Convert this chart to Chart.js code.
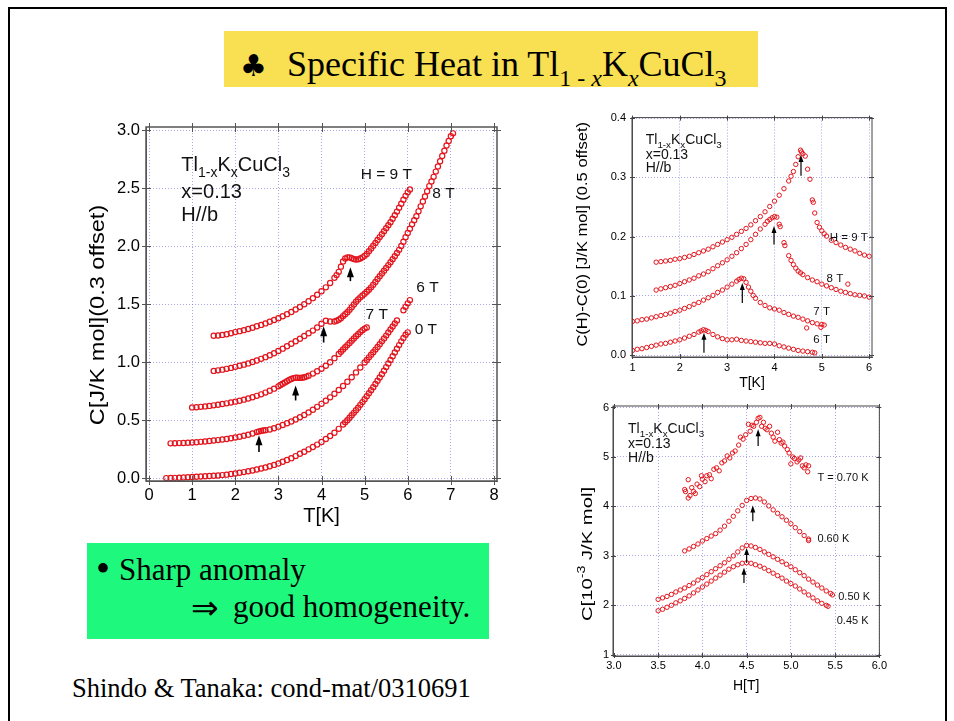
<!DOCTYPE html>
<html>
<head>
<meta charset="utf-8">
<script src="https://cdn.jsdelivr.net/npm/chart.js@4.4.1/dist/chart.umd.min.js"></script>
<style>
html,body{margin:0;padding:0;background:#fff;}
body{width:954px;height:721px;position:relative;overflow:hidden;}
.abs{position:absolute;}
.serif{font-family:'Liberation Serif','Times New Roman',serif;color:#000;white-space:nowrap;line-height:1;}
.sub{font-size:24px;position:relative;top:10px;}
#frame{left:8px;top:7px;width:935px;height:730px;border:2px solid #000;}
#titlebox{left:224px;top:31px;width:534px;height:56px;background:#f9df52;}
#greenbox{left:87px;top:543px;width:402px;height:96px;background:#1ef97e;}
canvas{position:absolute;}
</style>
</head>
<body>
<div id="frame" class="abs"></div>
<div id="titlebox" class="abs"></div>
<div class="abs serif" style="left:240px;top:51px;font-size:30px;font-family:'DejaVu Sans',sans-serif;">♣</div>
<div class="abs serif" style="left:287px;top:46px;font-size:36px;">Specific Heat in Tl<span class="sub">1 - <i>x</i></span>K<span class="sub"><i>x</i></span>CuCl<span class="sub">3</span></div>
<div id="greenbox" class="abs"></div>
<div class="abs serif" style="left:96px;top:549px;font-size:40px;">•</div>
<div class="abs serif" style="left:119px;top:554px;font-size:31px;">Sharp anomaly</div>
<div class="abs serif" style="left:191px;top:592px;font-size:33px;">⇒</div>
<div class="abs serif" style="left:233px;top:591px;font-size:31px;">good homogeneity.</div>
<div class="abs serif" style="left:72px;top:675px;font-size:26.5px;">Shindo &amp; Tanaka: cond-mat/0310691</div>

<canvas id="cMain" width="480" height="440" style="left:40px;top:110px;"></canvas>
<canvas id="cDiff" width="330" height="290" style="left:560px;top:105px;"></canvas>
<canvas id="cField" width="330" height="300" style="left:560px;top:395px;"></canvas>

<script>
// ---------------- DATA ----------------
// Main panel: C [J/K mol] vs T [K], 0.3 offset between fields
const mainSeriesNames = ['0 T', '6 T', '7 T', '8 T', 'H = 9 T'];
const main0T = [[0.4,0],[0.5,.001],[0.6,.002],[0.7,.003],[0.8,.005],[0.9,.007],[1.0,.010],[1.1,.012],[1.2,.014],[1.3,.016],[1.4,.018],[1.5,.020],[1.6,.023],[1.7,.026],[1.8,.030],[1.9,.035],[2.0,.040],[2.1,.046],[2.2,.052],[2.3,.059],[2.4,.066],[2.5,.074],[2.6,.083],[2.7,.092],[2.8,.102],[2.9,.114],[3.0,.127],[3.1,.141],[3.2,.156],[3.3,.172],[3.4,.190],[3.5,.210],[3.6,.228],[3.7,.248],[3.8,.268],[3.9,.289],[4.0,.312],[4.1,.337],[4.2,.363],[4.3,.392],[4.4,.425],[4.5,.462],[4.55,.481],[4.6,.500],[4.65,.521],[4.7,.542],[4.75,.563],[4.8,.585],[4.85,.608],[4.9,.632],[4.95,.656],[5.0,.680],[5.05,.706],[5.1,.732],[5.15,.758],[5.2,.785],[5.25,.812],[5.3,.840],[5.35,.868],[5.4,.897],[5.45,.927],[5.5,.958],[5.55,.989],[5.6,1.020],[5.65,1.052],[5.7,1.084],[5.75,1.116],[5.8,1.148],[5.85,1.180],[5.9,1.210],[5.95,1.238],[6.0,1.258]];
const main6T = [[0.5,.300],[0.6,.301],[0.7,.302],[0.8,.303],[0.9,.305],[1.0,.307],[1.1,.310],[1.2,.313],[1.3,.316],[1.4,.320],[1.5,.324],[1.6,.328],[1.7,.333],[1.8,.338],[1.9,.344],[2.0,.350],[2.1,.357],[2.2,.365],[2.3,.374],[2.4,.385],[2.5,.397],[2.55,.403],[2.6,.408],[2.65,.411],[2.7,.414],[2.8,.420],[2.9,.430],[3.0,.444],[3.1,.458],[3.2,.473],[3.3,.489],[3.4,.506],[3.5,.525],[3.6,.545],[3.7,.567],[3.8,.590],[3.9,.615],[4.0,.641],[4.1,.668],[4.2,.697],[4.3,.728],[4.4,.760],[4.5,.795],[4.6,.832],[4.7,.871],[4.8,.912],[4.9,.955],[5.0,.998],[5.05,1.020],[5.1,1.042],[5.15,1.064],[5.2,1.086],[5.25,1.109],[5.3,1.132],[5.35,1.156],[5.4,1.180],[5.45,1.205],[5.5,1.230],[5.55,1.256],[5.6,1.282],[5.65,1.308],[5.7,1.334],[5.75,1.360],[5.9,1.448],[5.95,1.478],[6.0,1.508],[6.05,1.536]];
const main7T = [[1.0,.610],[1.1,.612],[1.2,.615],[1.3,.619],[1.4,.623],[1.5,.628],[1.6,.633],[1.7,.639],[1.8,.645],[1.9,.652],[2.0,.660],[2.1,.668],[2.2,.677],[2.3,.687],[2.4,.698],[2.5,.710],[2.6,.723],[2.7,.738],[2.8,.754],[2.9,.772],[3.0,.792],[3.05,.803],[3.1,.814],[3.15,.825],[3.2,.836],[3.25,.847],[3.3,.856],[3.35,.863],[3.4,.866],[3.45,.866],[3.5,.865],[3.55,.866],[3.6,.870],[3.65,.876],[3.7,.884],[3.8,.902],[3.9,.922],[4.0,.944],[4.1,.970],[4.2,1.000],[4.3,1.035],[4.4,1.072],[4.45,1.091],[4.5,1.110],[4.55,1.129],[4.6,1.148],[4.65,1.167],[4.7,1.186],[4.75,1.205],[4.8,1.224],[4.85,1.242],[4.9,1.260],[4.95,1.276],[5.0,1.290],[5.05,1.300]];
const main8T = [[1.5,.925],[1.6,.930],[1.7,.936],[1.8,.943],[1.9,.951],[2.0,.960],[2.1,.969],[2.2,.979],[2.3,.990],[2.4,1.002],[2.5,1.015],[2.6,1.029],[2.7,1.044],[2.8,1.060],[2.9,1.078],[3.0,1.097],[3.1,1.117],[3.2,1.138],[3.3,1.160],[3.4,1.181],[3.5,1.203],[3.6,1.226],[3.7,1.250],[3.8,1.273],[3.9,1.300],[4.0,1.332],[4.1,1.358],[4.2,1.352],[4.3,1.352],[4.35,1.358],[4.4,1.366],[4.45,1.380],[4.5,1.398],[4.55,1.414],[4.6,1.432],[4.65,1.452],[4.7,1.474],[4.75,1.498],[4.8,1.522],[4.85,1.542],[4.9,1.560],[4.95,1.576],[5.0,1.592],[5.05,1.608],[5.1,1.625],[5.15,1.646],[5.2,1.668],[5.25,1.692],[5.3,1.718],[5.35,1.742],[5.4,1.766],[5.45,1.790],[5.5,1.814],[5.55,1.838],[5.6,1.863],[5.65,1.889],[5.7,1.915],[5.75,1.942],[5.8,1.970],[5.85,2.004],[5.9,2.040],[5.95,2.078],[6.0,2.115],[6.05,2.152],[6.1,2.190],[6.15,2.225],[6.2,2.260],[6.25,2.302],[6.3,2.345],[6.35,2.388],[6.4,2.430],[6.45,2.475],[6.5,2.520],[6.55,2.560],[6.6,2.600],[6.65,2.645],[6.7,2.690],[6.75,2.735],[6.8,2.780],[6.85,2.825],[6.9,2.870],[6.95,2.910],[7.0,2.950],[7.05,2.975]];
const main9T = [[1.5,1.228],[1.6,1.231],[1.7,1.236],[1.8,1.242],[1.9,1.250],[2.0,1.260],[2.1,1.268],[2.2,1.277],[2.3,1.287],[2.4,1.298],[2.5,1.310],[2.6,1.322],[2.7,1.335],[2.8,1.349],[2.9,1.364],[3.0,1.380],[3.1,1.397],[3.2,1.415],[3.3,1.434],[3.4,1.455],[3.5,1.477],[3.6,1.500],[3.7,1.526],[3.8,1.553],[3.9,1.582],[4.0,1.613],[4.1,1.646],[4.2,1.684],[4.3,1.728],[4.35,1.752],[4.4,1.780],[4.45,1.825],[4.5,1.870],[4.55,1.895],[4.6,1.905],[4.65,1.905],[4.7,1.898],[4.75,1.890],[4.8,1.886],[4.85,1.888],[4.9,1.895],[4.95,1.905],[5.0,1.918],[5.05,1.935],[5.1,1.958],[5.15,1.982],[5.2,2.005],[5.25,2.030],[5.3,2.055],[5.35,2.080],[5.4,2.105],[5.45,2.130],[5.5,2.156],[5.55,2.182],[5.6,2.208],[5.65,2.238],[5.7,2.268],[5.75,2.300],[5.8,2.334],[5.85,2.368],[5.9,2.402],[5.95,2.436],[6.0,2.466],[6.05,2.490]];
// arrows: [T, C tail, C tip]
const mainArrows = [[4.67,1.70,1.82],[4.05,1.17,1.31],[3.40,0.67,0.80],[2.55,0.225,0.37]];
const mainTicksX = [0,1,2,3,4,5,6,7,8];
const mainTicksY = [0,0.5,1,1.5,2,2.5,3];

// Top-right panel: C(H)-C(0) [J/K mol], 0.05 offset
const diffSeriesNames = ['6 T', '7 T', '8 T', 'H = 9 T'];
const diff6T = [[1.0,.008],[1.1,.010],[1.2,.011],[1.3,.013],[1.4,.015],[1.5,.017],[1.6,.019],[1.7,.020],[1.8,.022],[1.9,.024],[2.0,.026],[2.1,.029],[2.2,.032],[2.3,.035],[2.4,.039],[2.45,.041],[2.5,.043],[2.55,.042],[2.6,.040],[2.7,.035],[2.8,.031],[2.9,.028],[3.0,.026],[3.1,.026],[3.2,.027],[3.3,.025],[3.4,.024],[3.5,.023],[3.6,.022],[3.7,.021],[3.8,.020],[3.9,.020],[4.0,.019],[4.1,.016],[4.2,.014],[4.3,.012],[4.4,.010],[4.5,.008],[4.6,.007],[4.7,.006],[4.8,.005],[4.85,.004]];
const diff7T = [[1.0,.057],[1.1,.058],[1.2,.060],[1.3,.061],[1.4,.063],[1.5,.065],[1.6,.067],[1.7,.069],[1.8,.071],[1.9,.074],[2.0,.076],[2.1,.079],[2.2,.082],[2.3,.086],[2.4,.089],[2.5,.093],[2.6,.097],[2.7,.101],[2.8,.106],[2.9,.110],[3.0,.115],[3.1,.120],[3.2,.125],[3.25,.128],[3.3,.130],[3.35,.129],[3.4,.123],[3.45,.115],[3.5,.108],[3.55,.101],[3.6,.096],[3.7,.089],[3.8,.084],[3.9,.080],[4.0,.078],[4.1,.076],[4.2,.072],[4.3,.069],[4.4,.066],[4.5,.064],[4.6,.061],[4.68,.046],[4.7,.058],[4.8,.055],[4.9,.053],[4.98,.047],[5.0,.052],[5.05,.051]];
const diff8T = [[1.5,.110],[1.6,.112],[1.7,.114],[1.8,.116],[1.9,.118],[2.0,.121],[2.1,.124],[2.2,.127],[2.3,.130],[2.4,.134],[2.5,.137],[2.6,.141],[2.7,.146],[2.8,.151],[2.9,.156],[3.0,.161],[3.1,.167],[3.2,.173],[3.3,.180],[3.4,.187],[3.5,.195],[3.6,.204],[3.7,.213],[3.8,.221],[3.85,.226],[3.9,.229],[3.95,.232],[4.0,.234],[4.05,.233],[4.1,.221],[4.12,.217],[4.2,.190],[4.22,.185],[4.3,.168],[4.35,.160],[4.4,.153],[4.45,.147],[4.5,.142],[4.55,.139],[4.6,.136],[4.7,.131],[4.8,.127],[4.9,.124],[5.0,.120],[5.1,.117],[5.2,.114],[5.3,.111],[5.4,.108],[5.5,.106],[5.55,.120],[5.6,.104],[5.7,.102],[5.8,.101],[5.9,.100],[6.0,.098]];
const diff9T = [[1.5,.157],[1.6,.158],[1.7,.159],[1.8,.160],[1.9,.162],[2.0,.163],[2.1,.165],[2.2,.167],[2.3,.170],[2.4,.173],[2.5,.176],[2.6,.179],[2.7,.183],[2.8,.187],[2.9,.191],[3.0,.195],[3.1,.199],[3.2,.204],[3.3,.209],[3.4,.214],[3.5,.220],[3.6,.227],[3.7,.234],[3.8,.242],[3.9,.251],[4.0,.260],[4.1,.270],[4.2,.281],[4.3,.294],[4.35,.302],[4.4,.310],[4.45,.322],[4.5,.335],[4.55,.346],[4.57,.343],[4.6,.340],[4.65,.336],[4.7,.314],[4.75,.297],[4.8,.262],[4.82,.258],[4.85,.240],[4.9,.224],[4.95,.216],[5.0,.210],[5.05,.205],[5.1,.201],[5.2,.194],[5.3,.190],[5.4,.186],[5.5,.182],[5.6,.179],[5.7,.176],[5.8,.172],[5.9,.169],[6.0,.167]];
const diffArrows = [[4.56,0.303,0.338],[3.99,0.187,0.218],[3.32,0.088,0.122],[2.51,0.004,0.038]];
const diffTicksX = [1,2,3,4,5,6];
const diffTicksY = [0,0.1,0.2,0.3,0.4];

// Bottom-right panel: C [1e-3 J/K mol] vs H [T]
const fieldSeriesNames = ['0.45 K', '0.50 K', '0.60 K', 'T = 0.70 K'];
const field045 = [[3.50,1.89],[3.55,1.92],[3.60,1.96],[3.65,2.00],[3.70,2.05],[3.75,2.09],[3.80,2.14],[3.85,2.19],[3.90,2.25],[3.95,2.31],[4.00,2.37],[4.05,2.43],[4.10,2.49],[4.15,2.55],[4.20,2.61],[4.25,2.67],[4.30,2.73],[4.35,2.78],[4.40,2.82],[4.45,2.85],[4.50,2.86],[4.55,2.85],[4.60,2.82],[4.65,2.79],[4.70,2.75],[4.75,2.70],[4.80,2.65],[4.85,2.60],[4.90,2.55],[4.95,2.49],[5.00,2.44],[5.05,2.39],[5.10,2.33],[5.15,2.27],[5.20,2.21],[5.25,2.15],[5.30,2.09],[5.35,2.04],[5.40,2.00],[5.42,1.98]];
const field050 = [[3.50,2.12],[3.55,2.15],[3.60,2.18],[3.65,2.22],[3.70,2.27],[3.75,2.31],[3.80,2.35],[3.85,2.40],[3.90,2.45],[3.95,2.51],[4.00,2.56],[4.05,2.62],[4.10,2.68],[4.15,2.74],[4.20,2.80],[4.25,2.86],[4.30,2.93],[4.35,3.00],[4.40,3.08],[4.45,3.16],[4.50,3.21],[4.55,3.20],[4.60,3.17],[4.65,3.13],[4.70,3.08],[4.75,3.03],[4.80,2.98],[4.85,2.93],[4.90,2.88],[4.95,2.83],[5.00,2.78],[5.05,2.72],[5.10,2.66],[5.15,2.60],[5.20,2.53],[5.25,2.47],[5.30,2.41],[5.35,2.35],[5.40,2.29],[5.45,2.24],[5.47,2.21]];
const field060 = [[3.80,3.10],[3.85,3.14],[3.90,3.19],[3.95,3.24],[4.00,3.30],[4.05,3.35],[4.10,3.40],[4.15,3.45],[4.20,3.52],[4.25,3.60],[4.30,3.70],[4.35,3.80],[4.40,3.91],[4.45,4.02],[4.50,4.12],[4.55,4.16],[4.60,4.17],[4.65,4.15],[4.70,4.09],[4.75,4.01],[4.80,3.93],[4.85,3.86],[4.90,3.79],[4.95,3.72],[5.00,3.65],[5.05,3.57],[5.10,3.49],[5.15,3.41],[5.20,3.34],[5.20,3.31]];
const field070 = [[3.80,4.34],[3.81,4.30],[3.84,4.17],[3.84,4.54],[3.86,4.22],[3.88,4.38],[3.90,4.30],[3.92,4.26],[3.94,4.45],[3.97,4.40],[3.99,4.62],[4.00,4.55],[4.03,4.50],[4.05,4.62],[4.08,4.64],[4.10,4.56],[4.13,4.75],[4.16,4.78],[4.19,4.72],[4.22,4.88],[4.25,4.92],[4.28,5.02],[4.31,4.98],[4.34,5.08],[4.37,5.12],[4.41,5.24],[4.43,5.40],[4.46,5.36],[4.49,5.45],[4.52,5.66],[4.54,5.52],[4.56,5.64],[4.58,5.62],[4.61,5.70],[4.63,5.78],[4.65,5.80],[4.67,5.62],[4.69,5.70],[4.71,5.58],[4.73,5.55],[4.76,5.62],[4.78,5.48],[4.80,5.40],[4.82,5.32],[4.85,5.50],[4.87,5.35],[4.89,5.28],[4.91,5.30],[4.93,5.22],[4.96,5.15],[4.98,5.08],[5.00,4.86],[5.02,5.00],[5.04,4.97],[5.07,4.90],[5.09,4.94],[5.11,4.98],[5.13,4.82],[5.15,4.78],[5.17,4.84],[5.19,4.70],[5.20,4.82]];
const fieldArrows = [[4.63,5.22,5.56],[4.57,3.70,4.02],[4.50,2.86,3.16],[4.47,2.45,2.76]];
const fieldTicksX = [3,3.5,4,4.5,5,5.5,6];
const fieldTicksY = [1,2,3,4,5,6];

const sampleLine = 'x=0.13';
const fieldDirection = 'H//b';
const formulaParts = [['Tl',0],['1-x',1],['K',0],['x',1],['CuCl',0],['3',1]];

// ---------------- DRAWING ----------------
const RED = '#e3141c';
const SANS = '"Liberation Sans", Arial, Helvetica, sans-serif';

function line(ctx,x1,y1,x2,y2){ctx.beginPath();ctx.moveTo(x1,y1);ctx.lineTo(x2,y2);ctx.stroke();}
function drawParts(ctx,x,y,size,parts,measureOnly){
  let cx=x;
  for(const [t,k] of parts){
    const s=k?size*0.7:size;
    ctx.font=s+'px '+SANS;
    if(!measureOnly) ctx.fillText(t,cx,y+(k===1?size*0.3:(k===2?-size*0.38:0)));
    cx+=ctx.measureText(t).width;
  }
  return cx-x;
}

const decor={
  id:'decor',
  afterDraw(chart,args,o){
    const {ctx,chartArea:a,scales:{x,y}}=chart;
    ctx.save();
    ctx.strokeStyle=o.frameColor; ctx.lineWidth=1;
    for(const t of x.ticks){const p=Math.round(x.getPixelForValue(t.value))+0.5;
      line(ctx,p,a.bottom+o.tickOut,p,a.bottom-o.tickIn); line(ctx,p,a.top-o.tickOut,p,a.top+o.tickIn);}
    for(const t of y.ticks){const p=Math.round(y.getPixelForValue(t.value))+0.5;
      line(ctx,a.left-o.tickOut,p,a.left+o.tickIn,p); line(ctx,a.right+o.tickOut,p,a.right-o.tickIn,p);}
    ctx.lineWidth=o.frameWidth;
    ctx.strokeRect(a.left,a.top,a.right-a.left,a.bottom-a.top);
    ctx.fillStyle='#000'; ctx.strokeStyle='#000'; ctx.lineWidth=o.arrowWidth;
    for(const [xv,y0,y1] of o.arrows){
      const px=x.getPixelForValue(xv), p0=y.getPixelForValue(y0), p1=y.getPixelForValue(y1);
      line(ctx,px,p0,px,p1+o.headLen*0.7);
      ctx.beginPath(); ctx.moveTo(px,p1); ctx.lineTo(px-o.headW/2,p1+o.headLen); ctx.lineTo(px+o.headW/2,p1+o.headLen); ctx.closePath(); ctx.fill();
    }
    ctx.textAlign='left'; ctx.textBaseline='alphabetic'; ctx.fillStyle='#111';
    ctx.font=o.labelSize+'px '+SANS;
    o.labels.forEach((p,i)=>{ ctx.fillText(o.names[i],x.getPixelForValue(p[0]),y.getPixelForValue(p[1])); });
    const f=o.formula, fx=x.getPixelForValue(f.x);
    drawParts(ctx,fx,y.getPixelForValue(f.y[0]),f.size,formulaParts);
    ctx.font=f.size+'px '+SANS;
    ctx.fillText(sampleLine,fx,y.getPixelForValue(f.y[1]));
    ctx.fillText(fieldDirection,fx,y.getPixelForValue(f.y[2]));
    const yt=o.yTitle; ctx.fillStyle='#000';
    const w=drawParts(ctx,0,0,yt.size,yt.parts,true);
    ctx.translate(a.left+yt.dx,(a.top+a.bottom)/2+yt.dy);
    ctx.rotate(-Math.PI/2); ctx.scale(yt.stretch,1);
    ctx.textBaseline='middle';
    drawParts(ctx,-w/2,0,yt.size,yt.parts);
    ctx.restore();
  }
};

function axis(min,max,ticks,dec,fs,pad,fit,title){
  return {type:'linear',min,max,
    afterBuildTicks:s=>{s.ticks=ticks.map(v=>({value:v}));},
    afterFit:fit,
    ticks:{callback:v=>Number(v).toFixed(dec),font:{family:SANS,size:fs},color:'#000',padding:pad,maxRotation:0,autoSkip:false},
    grid:{color:'rgba(110,110,215,0.6)',lineWidth:1,drawTicks:false},
    border:{display:true,color:'#555',width:1,dash:[1,2]},
    title:title||{display:false}};
}
function ds(pairs,r,bw){
  return {data:pairs.map(p=>({x:p[0],y:p[1]})),pointStyle:'circle',pointRadius:r,pointBorderWidth:bw,
    borderColor:RED,backgroundColor:'rgba(255,255,255,0)',showLine:false};
}
function make(id,datasets,c){
  return new Chart(document.getElementById(id),{
    type:'scatter',
    data:{datasets},
    options:{responsive:false,animation:false,events:[],devicePixelRatio:1,
      layout:{padding:c.pad},
      plugins:{legend:{display:false},tooltip:{enabled:false},decor:c.decor},
      scales:{x:c.x,y:c.y}},
    plugins:[decor]
  });
}

make('cMain',[ds(main0T,2.6,1.2),ds(main6T,2.6,1.2),ds(main7T,2.6,1.2),ds(main8T,2.6,1.2),ds(main9T,2.6,1.2)],{
  pad:{left:0,top:17,right:23,bottom:0},
  x:axis(-0.07,8.07,mainTicksX,0,16.5,5,s=>{s.height=69;},
     {display:true,text:'T[K]',color:'#000',font:{family:SANS,size:20},padding:{top:0,bottom:22}}),
  y:axis(-0.025,3.03,mainTicksY,1,16.5,6,s=>{s.width=106;}),
  decor:{frameColor:'#555',frameWidth:1.5,tickIn:5,tickOut:4,arrows:mainArrows,arrowWidth:1.6,headLen:10,headW:7,
    names:mainSeriesNames,labelSize:15.5,
    labels:[[6.16,1.24],[6.2,1.61],[5.02,1.37],[6.57,2.42],[4.91,2.58]],
    formula:{x:0.75,y:[2.65,2.42,2.22],size:20},
    yTitle:{parts:[['C[J/K mol](0.3 offset)',0]],size:21,stretch:1.12,dx:-48,dy:11}}
});

make('cDiff',[ds(diff6T,2.2,1),ds(diff7T,2.2,1),ds(diff8T,2.2,1),ds(diff9T,2.2,1)],{
  pad:{left:0,top:12,right:18,bottom:0},
  x:axis(0.99,6.06,diffTicksX,0,11,4,s=>{s.height=38;},
     {display:true,text:'T[K]',color:'#000',font:{family:SANS,size:14},padding:{top:0,bottom:3.6}}),
  y:axis(-0.003,0.401,diffTicksY,1,11,6,s=>{s.width=72;}),
  decor:{frameColor:'#444',frameWidth:1,tickIn:3,tickOut:2,arrows:diffArrows,arrowWidth:1.2,headLen:7,headW:5,
    names:diffSeriesNames,labelSize:11.5,
    labels:[[4.82,0.021],[4.82,0.068],[5.1,0.124],[5.17,0.193]],
    formula:{x:1.28,y:[0.357,0.331,0.309],size:14},
    yTitle:{parts:[['C(H)-C(0) [J/K mol] (0.5 offset)',0]],size:14,stretch:1.18,dx:-49,dy:-3}}
});

make('cField',[ds(field045,2.2,1),ds(field050,2.2,1),ds(field060,2.2,1),ds(field070,2.2,1)],{
  pad:{left:0,top:11,right:5,bottom:0},
  x:axis(2.99,6.0,fieldTicksX,1,11,3,s=>{s.height=39;},
     {display:true,text:'H[T]',color:'#000',font:{family:SANS,size:14},padding:{top:0,bottom:0.6}}),
  y:axis(0.975,6.03,fieldTicksY,0,11,4,s=>{s.width=53;}),
  decor:{frameColor:'#444',frameWidth:1,tickIn:3,tickOut:2,arrows:fieldArrows,arrowWidth:1.2,headLen:7,headW:5,
    names:fieldSeriesNames,labelSize:11,
    labels:[[5.518,1.63],[5.535,2.10],[5.30,3.28],[5.30,4.515]],
    formula:{x:3.16,y:[5.48,5.18,4.89],size:14},
    yTitle:{parts:[['C[10',0],['-3',2],[' J/K mol]',0]],size:15,stretch:1.35,dx:-25,dy:23}}
});
</script>
</body>
</html>
